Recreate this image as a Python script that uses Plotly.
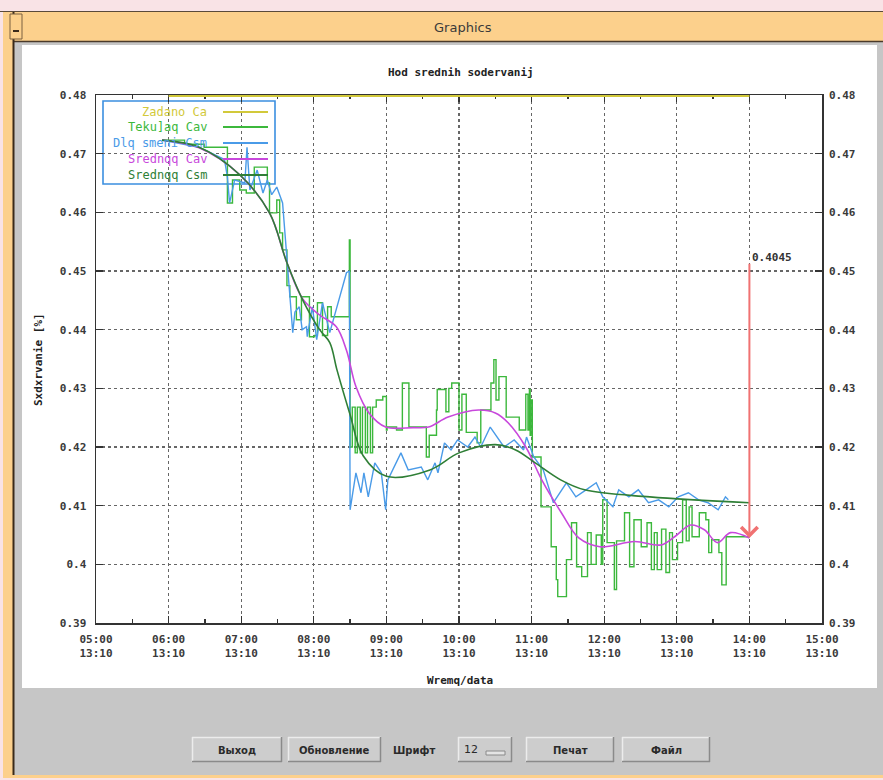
import plotly.graph_objects as go

# ---------------- data (time in decimal hours, values in %) ----------------
t_zadano = [6.0, 14.0]
v_zadano = [0.48, 0.48]

t_cav = [5.91, 6.22, 6.49, 6.81, 6.88, 6.98, 7.07, 7.18, 7.36, 7.39, 7.49, 7.53, 7.57, 7.63,
         7.67, 7.76, 7.83, 7.94, 8.01, 8.05, 8.12, 8.19, 8.24, 8.49, 8.50, 8.53, 8.57, 8.60,
         8.64, 8.67, 8.71, 8.74, 8.78, 8.81, 8.86, 8.95, 9.00, 9.01, 9.14, 9.22, 9.31, 9.55,
         9.59, 9.69, 9.70, 9.82, 9.86, 9.90, 10.00, 10.04, 10.10, 10.25, 10.30, 10.44, 10.48,
         10.51, 10.55, 10.65, 10.83, 10.92, 10.95, 10.97, 10.98, 10.99, 11.01, 11.13, 11.27,
         11.34, 11.36, 11.48, 11.55, 11.62, 11.69, 11.77, 11.82, 11.89, 11.96, 11.98, 12.04,
         12.14, 12.17, 12.28, 12.35, 12.41, 12.51, 12.59, 12.65, 12.69, 12.73, 12.79, 12.85,
         12.90, 12.94, 13.01, 13.08, 13.13, 13.17, 13.21, 13.31, 13.40, 13.44, 13.48, 13.58,
         13.62, 13.68, 14.00]
v_cav = [0.4723, 0.4716, 0.4711, 0.4616, 0.4655, 0.4638, 0.4633, 0.4677, 0.4650, 0.4599,
         0.4621, 0.4565, 0.4536, 0.4475, 0.4456, 0.4417, 0.4456, 0.4388, 0.4390, 0.4446,
         0.4390, 0.4439, 0.4422, 0.4553, 0.4200, 0.4268, 0.4190, 0.4268, 0.4190, 0.4268,
         0.4190, 0.4268, 0.4190, 0.4268, 0.4280, 0.4286, 0.4229, 0.4234, 0.4229, 0.4309,
         0.4234, 0.4183, 0.4220, 0.4263, 0.4298, 0.4260, 0.4300, 0.4309, 0.4229, 0.4290,
         0.4225, 0.4207, 0.4263, 0.4309, 0.4349, 0.4280, 0.4320, 0.4251, 0.4229, 0.4290,
         0.4229, 0.4298, 0.4220, 0.4280, 0.4183, 0.4098, 0.4030, 0.3974, 0.3945, 0.4008,
         0.4071, 0.3996, 0.3979, 0.4054, 0.4000, 0.4050, 0.4000, 0.4110, 0.4037, 0.3957,
         0.4040, 0.4088, 0.3996, 0.4076, 0.4030, 0.4071, 0.3991, 0.4054, 0.3991, 0.4060,
         0.3986, 0.4054, 0.4008, 0.4037, 0.4110, 0.4040, 0.4098, 0.4047, 0.4088, 0.4076,
         0.4020, 0.4042, 0.4020, 0.3965, 0.4047, 0.4047]

t_csm = [5.91, 6.42, 6.77, 6.81, 6.84, 6.91, 7.05, 7.08, 7.12, 7.22, 7.30, 7.36, 7.42, 7.49,
         7.57, 7.62, 7.67, 7.71, 7.74, 7.80, 7.84, 7.90, 7.91, 7.98, 8.04, 8.12, 8.22, 8.31,
         8.45, 8.49, 8.50, 8.58, 8.65, 8.69, 8.75, 8.84, 8.93, 8.99, 9.02, 9.20, 9.30, 9.48,
         9.57, 9.67, 9.71, 9.80, 9.89, 9.98, 10.12, 10.22, 10.30, 10.43, 10.53, 10.62, 10.76,
         10.89, 10.93, 11.03, 11.16, 11.30, 11.48, 11.61, 11.75, 11.89, 11.98, 12.12, 12.20,
         12.34, 12.47, 12.61, 12.75, 12.89, 13.02, 13.16, 13.30, 13.43, 13.57, 13.67, 13.71]
v_csm = [0.4723, 0.4711, 0.4690, 0.4660, 0.4616, 0.4655, 0.4650, 0.4711, 0.4638, 0.4672,
         0.4633, 0.4655, 0.4630, 0.4643, 0.4616, 0.4541, 0.4463, 0.4395, 0.4430, 0.4439,
         0.4400, 0.4405, 0.4388, 0.4439, 0.4383, 0.4446, 0.4395, 0.4434, 0.4497, 0.4500,
         0.4093, 0.4156, 0.4122, 0.4156, 0.4115, 0.4173, 0.4156, 0.4093, 0.4144, 0.4190,
         0.4161, 0.4166, 0.4144, 0.4173, 0.4156, 0.4207, 0.4195, 0.4212, 0.4200, 0.4217,
         0.4200, 0.4234, 0.4217, 0.4200, 0.4212, 0.4195, 0.4217, 0.4183, 0.4161, 0.4105,
         0.4139, 0.4115, 0.4127, 0.4139, 0.4115, 0.4098, 0.4127, 0.4115, 0.4127, 0.4105,
         0.4110, 0.4098, 0.4115, 0.4122, 0.4110, 0.4105, 0.4093, 0.4115, 0.4110]

t_avg_cav = [5.91, 6.42, 6.98, 7.39, 7.63, 7.85, 8.08, 8.31, 8.45, 8.58, 8.76, 8.99, 9.37,
             9.58, 9.85, 10.27, 10.50, 10.68, 10.92, 11.14, 11.41, 11.65, 11.94, 12.42,
             12.78, 12.97, 13.19, 13.38, 13.56, 13.74, 14.00]
v_avg_cav = [0.4723, 0.4710, 0.4664, 0.4599, 0.4514, 0.4452, 0.4425, 0.4405, 0.4365, 0.4303,
             0.4258, 0.4234, 0.4233, 0.4234, 0.4251, 0.4263, 0.4258, 0.4241, 0.4200, 0.4144,
             0.4088, 0.4045, 0.4030, 0.4039, 0.4033, 0.4047, 0.4067, 0.4059, 0.4037, 0.4054,
             0.4045]

t_avg_csm = [5.91, 6.42, 6.98, 7.39, 7.63, 7.85, 8.08, 8.22, 8.32, 8.50, 8.68, 9.00, 9.60,
             10.00, 10.50, 10.78, 11.05, 11.40, 11.73, 12.63, 14.00]
v_avg_csm = [0.4723, 0.4711, 0.4664, 0.4599, 0.4514, 0.4450, 0.4400, 0.4378, 0.4331, 0.4255,
             0.4185, 0.4150, 0.4161, 0.4190, 0.4204, 0.4195, 0.4173, 0.4144, 0.4127, 0.4115,
             0.4105]

marker_time = 14.0
marker_top = 0.4515
marker_value = 0.4045

x_ticks = [5, 6, 7, 8, 9, 10, 11, 12, 13, 14, 15]
x_tick_labels = ["05:00<br>13:10", "06:00<br>13:10", "07:00<br>13:10", "08:00<br>13:10",
                 "09:00<br>13:10", "10:00<br>13:10", "11:00<br>13:10", "12:00<br>13:10",
                 "13:00<br>13:10", "14:00<br>13:10", "15:00<br>13:10"]
y_ticks = [0.39, 0.40, 0.41, 0.42, 0.43, 0.44, 0.45, 0.46, 0.47, 0.48]
y_tick_labels = ["0.39", "0.4", "0.41", "0.42", "0.43", "0.44", "0.45", "0.46", "0.47", "0.48"]

series_names = ["Zadano Ca", "Teku]aq Cav", "Dlq smeni Csm", "Srednqq Cav", "Srednqq Csm"]
series_colors = ["#d2c93a", "#3cb83c", "#4a9be8", "#c848dc", "#2f7f36"]

# ---------------- layout helpers (pixel box of the plot area) ----------------
W, H = 883, 780
L, R, T, B = 96, 822, 95, 623


def pxx(x):
    return (x - L) / (R - L)


def pxy(y):
    return (B - y) / (B - T)


MONO = "DejaVu Sans Mono"
SANS = "DejaVu Sans"

fig = go.Figure()

fig.add_trace(go.Scatter(x=t_zadano, y=v_zadano, mode="lines", yaxis="y2",
                         line=dict(color=series_colors[0], width=4), hoverinfo="skip"))
fig.add_trace(go.Scatter(x=t_cav, y=v_cav, mode="lines", line_shape="hv",
                         line=dict(color=series_colors[1], width=1.4), hoverinfo="skip"))
fig.add_trace(go.Scatter(x=t_csm, y=v_csm, mode="lines",
                         line=dict(color=series_colors[2], width=1.4), hoverinfo="skip"))
fig.add_trace(go.Scatter(x=t_avg_cav, y=v_avg_cav, mode="lines", line_shape="spline",
                         line=dict(color=series_colors[3], width=1.6, smoothing=1.0), hoverinfo="skip"))
fig.add_trace(go.Scatter(x=t_avg_csm, y=v_avg_csm, mode="lines", line_shape="spline",
                         line=dict(color=series_colors[4], width=1.6, smoothing=1.0), hoverinfo="skip"))

tickfont = dict(family=MONO, size=11, color="#3a3a3a", weight="bold")

fig.update_layout(
    width=W, height=H, autosize=False,
    margin=dict(l=L, r=W - R, t=T, b=H - B, pad=0),
    paper_bgcolor="#c6c6c6", plot_bgcolor="white",
    showlegend=False,
    xaxis=dict(range=[5, 15], tickvals=x_ticks, ticktext=x_tick_labels, tickfont=tickfont,
               ticks="inside", ticklen=7, tickwidth=1.3, tickcolor="#333",
               showline=True, linecolor="#333", linewidth=1.5, mirror="ticks",
               showgrid=True, gridcolor="#666", griddash="dot", gridwidth=1.2,
               minor=dict(tick0=5, dtick=0.5, ticks="inside", ticklen=4, tickcolor="#333",
                          showgrid=False),
               zeroline=False, layer="below traces", ticklabelstandoff=5, fixedrange=True),
    yaxis=dict(range=[0.39, 0.48], tickvals=y_ticks, ticktext=y_tick_labels, tickfont=tickfont,
               ticks="inside", ticklen=7, tickwidth=1.3, tickcolor="#333",
               showline=True, linecolor="#333", linewidth=1.5, mirror="ticks",
               showgrid=True, gridcolor="#666", griddash="dot", gridwidth=1.2,
               zeroline=False, layer="below traces", ticklabelstandoff=6, fixedrange=True),
    yaxis2=dict(range=[0.39, 0.48], overlaying="y", side="right", tickvals=y_ticks,
                ticktext=y_tick_labels, tickfont=tickfont, ticks="", showline=False,
                showgrid=False, zeroline=False, ticklabelstandoff=6, fixedrange=True),
)

shapes = []


def rect(x0, y0, x1, y1, fill, line_color=None, lw=0, layer="below"):
    shapes.append(dict(type="rect", xref="paper", yref="paper",
                       x0=pxx(x0), x1=pxx(x1), y0=pxy(y1), y1=pxy(y0),
                       fillcolor=fill, line=dict(color=line_color or fill, width=lw),
                       layer=layer))


def hline(x0, x1, y, color, lw=1, layer="below"):
    shapes.append(dict(type="line", xref="paper", yref="paper", x0=pxx(x0), x1=pxx(x1),
                       y0=pxy(y), y1=pxy(y), line=dict(color=color, width=lw), layer=layer))


def vline(x, y0, y1, color, lw=1, layer="below"):
    shapes.append(dict(type="line", xref="paper", yref="paper", x0=pxx(x), x1=pxx(x),
                       y0=pxy(y0), y1=pxy(y1), line=dict(color=color, width=lw), layer=layer))


# window frame
rect(0, 0, W, 11, "#f9e3e6")
rect(0, 775, W, H, "#f9e3e6")
rect(0, 0, 3, H, "#f9e3e6")
rect(3, 12, 13, 777, "#fcd08c")
rect(10, 12, W, 41, "#fcd08c")
hline(0, W, 11.5, "#5a4a3a", 1.2)
hline(13, W, 41.5, "#4a3a2a", 1.5)
vline(13.5, 12, 777, "#3a2a1a", 2)
rect(10, 14, 22, 39, "#fcd08c", "#7a6040", 1)
hline(13, 19, 31, "#3a2a1a", 2)
rect(22, 45, 877, 688, "white")
rect(3, 775, W, 778, "#fcd08c")
# legend box
rect(103, 101, 275, 184, "rgba(0,0,0,0)", "#3b8fe0", 1.6)

# buttons
buttons = [("Выход", 192, 282), ("Обновление", 288, 381), ("Печат", 526, 614), ("Файл", 622, 710)]
for label, x0, x1 in buttons:
    rect(x0, 737, x1, 762, "#cdcdcd")
    hline(x0, x1, 737.5, "#ececec", 1.5)
    vline(x0 + 0.5, 737, 762, "#ececec", 1.5)
    hline(x0, x1, 761.5, "#8a8a8a", 1.5)
    vline(x1 - 0.5, 737, 762, "#8a8a8a", 1.5)
rect(458, 737, 512, 762, "#cdcdcd")
hline(458, 512, 737.5, "#ececec", 1.5)
vline(458.5, 737, 762, "#ececec", 1.5)
hline(458, 512, 761.5, "#8a8a8a", 1.5)
vline(511.5, 737, 762, "#8a8a8a", 1.5)
rect(486, 751, 505, 755, "#e4e4e4", "#8a8a8a", 1)

annotations = []


def text(x, y, s, size=11, color="#333", family=MONO, xanchor="center", angle=0, weight="normal"):
    annotations.append(dict(xref="paper", yref="paper", x=pxx(x), y=pxy(y), text=s,
                            showarrow=False, xanchor=xanchor, yanchor="middle",
                            textangle=angle,
                            font=dict(family=family, size=size, color=color, weight=weight)))


text(463, 28, "Graphics", size=13, color="#3a3a3a", family=SANS)
text(461, 72, "Hod srednih sodervanij", size=11, color="#222", weight="bold")
text(460, 680, "Wremq/data", size=11, color="#222", weight="bold")
text(38, 360, "Sxdxrvanie [%]", size=11, color="#222", angle=-90, weight="bold")

for label, x0, x1 in buttons:
    text((x0 + x1) / 2, 750, label, size=10, color="#2a2a2a", family=SANS, weight="bold")
text(414, 750, "Шрифт", size=10, color="#2a2a2a", family=SANS, weight="bold")
text(471, 749, "12", size=11, color="#2a2a2a", family=SANS)

# legend (manual, text left of line sample)
row_y = [112, 127, 143, 159, 175]
for name, color, yy in zip(series_names, series_colors, row_y):
    text(209, yy, name, size=12, color=color, xanchor="right")
    hline(223, 268, yy, color, 2, layer="above")

# marker arrow with value
annotations.append(dict(x=marker_time, y=marker_value, ax=marker_time, ay=marker_top,
                        xref="x", yref="y", axref="x", ayref="y", text="", showarrow=True,
                        arrowhead=4, arrowsize=1.6, arrowwidth=2, arrowcolor="#f07272"))
annotations.append(dict(x=marker_time, y=marker_top, xref="x", yref="y",
                        text="0.4045", showarrow=False, xanchor="left", yanchor="bottom",
                        xshift=1, yshift=-4,
                        font=dict(family=MONO, size=11, color="#333", weight="bold")))

fig.update_layout(shapes=shapes, annotations=annotations)
fig.write_html("out.html", config={"displayModeBar": False, "staticPlot": True},
               post_script="document.body.style.margin='0px';document.body.style.overflow='hidden';")
